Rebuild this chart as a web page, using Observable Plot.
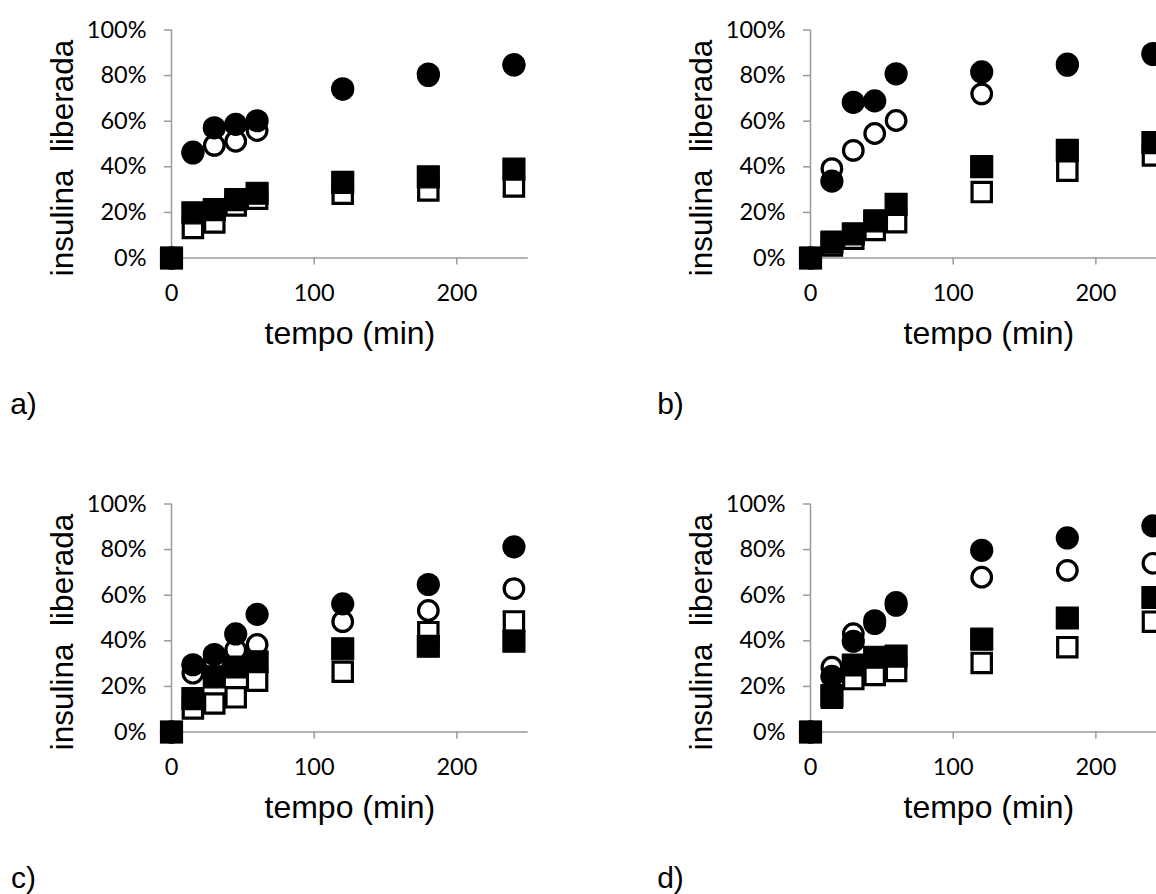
<!DOCTYPE html>
<html>
<head>
<meta charset="utf-8">
<script src="https://cdn.jsdelivr.net/npm/d3@7"></script>
<script src="https://cdn.jsdelivr.net/npm/@observablehq/plot@0.6"></script>
<style>
  html, body { margin: 0; padding: 0; background: #fff; overflow: hidden; }
  #wrap { position: relative; width: 1156px; height: 894px; overflow: hidden; background: #fff; }
  .panel { position: absolute; width: 560px; height: 440px; }
  .panel svg { max-width: none !important; }
  svg text { white-space: pre; }
</style>
</head>
<body>
<div id="wrap"></div>
<script>
// ---- data (percent of insulin released vs time in minutes) ----
const time = [0, 15, 30, 45, 60, 120, 180, 240];
const xTicks = [0, 100, 200];
const yTicks = [0, 20, 40, 60, 80, 100];
const panelLetters = ["a)", "b)", "c)", "d)"];
const xTitle = "tempo (min)";
const yTitle = "insulina  liberada";

// panel a
const aFilledCircle = [0, 46.4, 57.1, 58.6, 60.2, 74.2, 80.7, 84.8];
const aOpenCircle   = [0, 46.0, 49.4, 51.2, 55.9, 74.0, 80.0, 84.6];
const aFilledSquare = [0, 19.8, 21.2, 25.6, 28.4, 33.2, 35.6, 39.0];
const aOpenSquare   = [0, 13.2, 15.6, 23.0, 26.0, 28.2, 29.6, 31.4];
// panel b
const bFilledCircle = [0, 33.7, 68.3, 68.9, 80.8, 81.6, 85.0, 89.7];
const bOpenCircle   = [0, 39.2, 47.2, 54.6, 60.3, 72.0, 84.5, 89.2];
const bFilledSquare = [0, 7.0, 10.6, 16.3, 23.5, 40.1, 47.2, 50.6];
const bOpenSquare   = [0, 5.5, 8.5, 12.3, 15.7, 28.9, 38.3, 45.0];
// panel c
const cFilledCircle = [0, 29.5, 34.0, 43.0, 51.6, 56.2, 64.7, 81.2];
const cOpenCircle   = [0, 25.8, 31.0, 36.0, 38.4, 48.4, 53.3, 62.9];
const cFilledSquare = [0, 14.6, 24.2, 28.5, 30.8, 36.5, 37.6, 39.8];
const cOpenSquare   = [0, 10.3, 12.5, 15.2, 22.5, 26.4, 43.8, 48.5];
// panel d
const dFilledCircle = [0, 24.4, 39.8, 48.8, 56.7, 79.7, 85.1, 90.4];
const dOpenCircle   = [0, 28.4, 43.1, 47.5, 55.5, 67.9, 70.9, 74.0];
const dFilledSquare = [0, 16.0, 29.4, 32.8, 33.3, 40.7, 50.0, 59.0];
const dOpenSquare   = [0, 15.0, 23.2, 25.0, 26.8, 30.3, 37.2, 48.4];

const panels = [
  {fc: aFilledCircle, oc: aOpenCircle, fs: aFilledSquare, os: aOpenSquare},
  {fc: bFilledCircle, oc: bOpenCircle, fs: bFilledSquare, os: bOpenSquare},
  {fc: cFilledCircle, oc: cOpenCircle, fs: cFilledSquare, os: cOpenSquare},
  {fc: dFilledCircle, oc: dOpenCircle, fs: dFilledSquare, os: dOpenSquare}
];

const toRows = (vals) => time.map((t, i) => ({t, v: vals[i]}));

function makePanel(p, letter, letterX) {
  const W = 560, H = 440, ML = 171, MT = 29.5, innerH = 228, innerW = 356.7;
  return Plot.plot({
    width: W, height: H,
    marginLeft: ML, marginTop: MT,
    marginRight: W - ML - innerW,
    marginBottom: H - MT - innerH,
    x: {domain: [0, 250]},
    y: {domain: [0, 100]},
    style: {fontFamily: "Lato, sans-serif", background: "transparent", overflow: "visible", color: "black", maxWidth: "none"},
    marks: [
      Plot.ruleY([0], {x1: 0, x2: 250, stroke: "#9a9a9a", strokeWidth: 1.5}),
      Plot.ruleX([0], {y1: 0, y2: 100, stroke: "#9a9a9a", strokeWidth: 1.5}),
      Plot.axisX({ticks: xTicks, tickSize: 7, tickPadding: 19.5, stroke: "#9a9a9a", strokeWidth: 1.5, fill: "black", fontSize: 23.5, label: null, tickFormat: d => String(d)}),
      Plot.axisY({ticks: yTicks, tickSize: 7, tickPadding: 18, stroke: "#9a9a9a", strokeWidth: 1.5, fill: "black", fontSize: 23.5, label: null, tickFormat: d => d + "%"}),
      Plot.dot(toRows(p.os), {x: "t", y: "v", symbol: "square", r: 10.9, fill: "white", stroke: "black", strokeWidth: 3.2}),
      Plot.dot(toRows(p.oc), {x: "t", y: "v", symbol: "circle", r: 9.8, fill: "white", stroke: "black", strokeWidth: 3.2}),
      Plot.dot(toRows(p.fs), {x: "t", y: "v", symbol: "square", r: 12.4, fill: "black", stroke: "black", strokeWidth: 1.2, strokeLinejoin: "round"}),
      Plot.dot(toRows(p.fc), {x: "t", y: "v", symbol: "circle", r: 11.6, fill: "black"}),
      Plot.text([xTitle], {frameAnchor: "bottom", dy: 76, fontSize: 32, fontFamily: "Liberation Sans, Arial, sans-serif", fill: "black", textAnchor: "middle", lineAnchor: "middle"}),
      Plot.text([yTitle], {frameAnchor: "left", rotate: -90, dx: -109, dy: 14, fontSize: 31.5, fontFamily: "Liberation Sans, Arial, sans-serif", fill: "black", textAnchor: "middle", lineAnchor: "middle"}),
      Plot.text([letter], {frameAnchor: "bottom-left", dx: letterX - ML, dy: 146, fontSize: 30, fontFamily: "Liberation Sans, Arial, sans-serif", fill: "black", textAnchor: "middle", lineAnchor: "middle"})
    ]
  });
}

const wrap = document.getElementById("wrap");
const positions = [[0, 0, 23], [639, 0, 31], [0, 473.7, 23], [639, 473.7, 31]];
panels.forEach((p, i) => {
  const div = document.createElement("div");
  div.className = "panel";
  div.style.left = positions[i][0] + "px";
  div.style.top = positions[i][1] + "px";
  div.appendChild(makePanel(p, panelLetters[i], positions[i][2]));
  wrap.appendChild(div);
});
</script>
</body>
</html>
